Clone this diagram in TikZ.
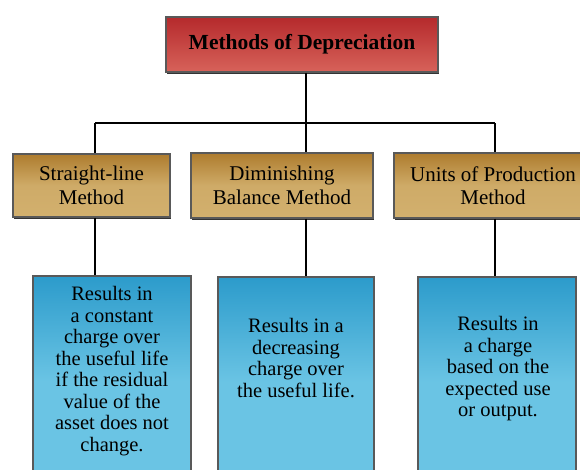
\documentclass[tikz,border=0pt]{standalone}
\usepackage{fontspec}
\setmainfont{Liberation Serif}
\usetikzlibrary{shadows}
\definecolor{redtop}{HTML}{B52A2C}
\definecolor{redbot}{HTML}{D7625A}
\definecolor{goldtop}{HTML}{AE7C2E}
\definecolor{goldbot}{HTML}{D2B06E}
\definecolor{bluetop}{HTML}{2C9BCB}
\definecolor{bluebot}{HTML}{6AC4E4}
\tikzset{
  boxbase/.style={draw=black!65, line width=1.4pt, inner sep=0pt,
    drop shadow={shadow xshift=1pt, shadow yshift=-2pt, fill=black!80, opacity=1}},
  redbox/.style={boxbase, top color=redtop, bottom color=redbot,
    font=\fontsize{21.5}{24}\selectfont\bfseries},
  goldbox/.style={boxbase, top color=goldtop, bottom color=goldbot, middle color=goldbot!90!goldtop,
    align=center, font=\fontsize{21}{23.5}\selectfont},
  bluebox/.style={boxbase, top color=bluetop, bottom color=bluebot, middle color=bluebot},
  bluetext/.style={align=center, font=\fontsize{20.5}{21.5}\selectfont, inner sep=0pt},
  conn/.style={line width=1.5pt, black}
}
\begin{document}
\begin{tikzpicture}[x=1pt,y=-1pt]
\useasboundingbox (0,0) rectangle (580,469);
\begin{scope}
\clip (0,0) rectangle (580,469);
\coordinate (bus1) at (95,123);
\coordinate (bus2) at (306,123);
\coordinate (bus3) at (495,123);
\node[redbox, minimum width=272pt, minimum height=55pt] (top) at (302,44.5) {Methods of Depreciation};
\node[goldbox, minimum width=157pt, minimum height=63pt] (m1) at (91.5,185.5) {Straight-line\\Method};
\node[goldbox, minimum width=182pt, minimum height=65pt] (m2) at (282,185.5) {Diminishing\\Balance Method};
\node[goldbox, minimum width=198pt, minimum height=65pt] (m3) at (493,185.5) {Units of Production\\Method};
\node[bluebox, minimum width=158pt, minimum height=210pt] (b1) at (112,381) {};
\node[bluebox, minimum width=156pt, minimum height=210pt] (b2) at (296,382) {};
\node[bluebox, minimum width=158pt, minimum height=210pt] (b3) at (497,382) {};
\node[bluetext] (t1) at (112,371) {Results in\\a constant\\charge over\\the useful life\\if the residual\\value of the\\asset does not\\change.};
\node[bluetext] (t2) at (296,358) {Results in a\\decreasing\\charge over\\the useful life.};
\node[bluetext] (t3) at (498,369) {Results in\\a charge\\based on the\\expected use\\or output.};
\draw[conn] (top.south -| bus2) -- (bus2);
\draw[conn] (bus1) -- (bus3);
\draw[conn] (bus1) -- (m1.north -| bus1);
\draw[conn] (bus2) -- (m2.north -| bus2);
\draw[conn] (bus3) -- (m3.north -| bus3);
\draw[conn] (m1.south -| bus1) -- (b1.north -| bus1);
\draw[conn] (m2.south -| bus2) -- (b2.north -| bus2);
\draw[conn] (m3.south -| bus3) -- (b3.north -| bus3);
\end{scope}
\end{tikzpicture}
\end{document}
